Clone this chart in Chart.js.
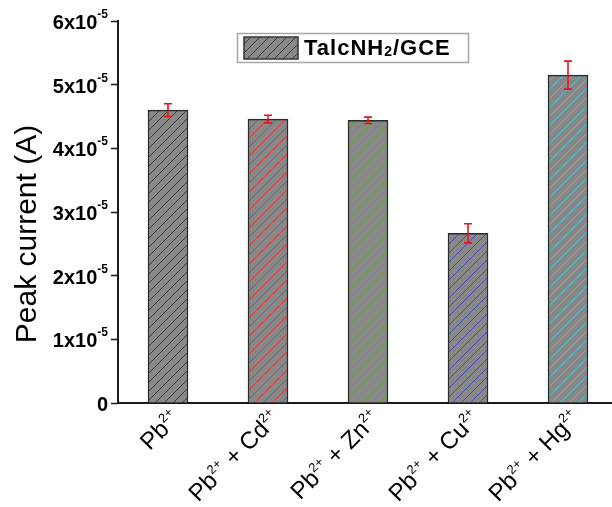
<!DOCTYPE html>
<html>
<head>
<meta charset="utf-8">
<script src="https://cdn.jsdelivr.net/npm/chart.js@4.4.1/dist/chart.umd.min.js"></script>
<style>
  html, body { margin: 0; padding: 0; background: #fff; }
  #wrap { width: 612px; height: 507px; overflow: hidden; position: relative; }
  canvas { display: block; }
</style>
</head>
<body>
<div id="wrap"><canvas id="chart" width="630" height="507"></canvas></div>
<script>
// --- data ---
const categories = ["Pb²⁺", "Pb²⁺ + Cd²⁺", "Pb²⁺ + Zn²⁺", "Pb²⁺ + Cu²⁺", "Pb²⁺ + Hg²⁺"];
const peakCurrent = [4.60e-5, 4.46e-5, 4.44e-5, 2.665e-5, 5.15e-5];
const errorBars = [0.10e-5, 0.06e-5, 0.05e-5, 0.15e-5, 0.22e-5];
const hatchColors = ["#3a3a3a", "#e23a3a", "#5ea040", "#4d4dbd", "#4ec3d3"];
const yTickValues = [0, 1e-5, 2e-5, 3e-5, 4e-5, 5e-5, 6e-5];
const yTickLabels = ["0", "1x10⁻⁵", "2x10⁻⁵", "3x10⁻⁵", "4x10⁻⁵", "5x10⁻⁵", "6x10⁻⁵"];
const seriesName = "TalcNH₂/GCE";
const yTitle = "Peak current (A)";

const FONT = '"Liberation Sans", Arial, sans-serif';
const canvas = document.getElementById('chart');
const ctx0 = canvas.getContext('2d');

// diagonal hatch over grey, one colour per bar
function makeHatch(lineColor) {
  const s = 9;
  const tile = document.createElement('canvas');
  tile.width = s; tile.height = s;
  const g = tile.getContext('2d');
  g.fillStyle = '#888888';
  g.fillRect(0, 0, s, s);
  g.strokeStyle = lineColor;
  g.lineWidth = 1;
  g.beginPath();
  g.moveTo(0, s); g.lineTo(s, 0);
  g.moveTo(-1, 1); g.lineTo(1, -1);
  g.moveTo(s - 1, s + 1); g.lineTo(s + 1, s - 1);
  g.stroke();
  return ctx0.createPattern(tile, 'repeat');
}
const hatches = hatchColors.map(makeHatch);

// super/subscript aware text
const SUP = {"⁰":"0","¹":"1","²":"2","³":"3","⁴":"4","⁵":"5","⁶":"6","⁷":"7","⁸":"8","⁹":"9","⁺":"+","⁻":"-"};
const SUB = {"₀":"0","₁":"1","₂":"2","₃":"3","₄":"4"};
function splitRuns(str) {
  const runs = [];
  for (const ch of str) {
    const kind = SUP[ch] ? 1 : (SUB[ch] ? -1 : 0);
    const c = SUP[ch] || SUB[ch] || ch;
    const last = runs[runs.length - 1];
    if (last && last.kind === kind) last.text += c;
    else runs.push({ kind: kind, text: c });
  }
  return runs;
}
function drawRich(ctx, str, x, y, o) {
  const runs = splitRuns(str);
  const fontFor = r => `${o.weight || 'normal'} ${r.kind ? o.small : o.size}px ${FONT}`;
  ctx.letterSpacing = (o.spacing || 0) + 'px';
  let total = 0;
  runs.forEach(r => { ctx.font = fontFor(r); r.w = ctx.measureText(r.text).width; total += r.w; });
  let cx = o.align === 'right' ? x - total : (o.align === 'center' ? x - total / 2 : x);
  ctx.textAlign = 'left';
  ctx.textBaseline = 'alphabetic';
  runs.forEach(r => {
    ctx.font = fontFor(r);
    const dy = r.kind === 1 ? -o.rise : (r.kind === -1 ? o.drop : 0);
    ctx.fillText(r.text, cx, y + dy);
    cx += r.w;
  });
  ctx.letterSpacing = '0px';
  return total;
}

// error bars on top of the bars
const errorBarPlugin = {
  id: 'errorBars',
  afterDatasetsDraw(chart) {
    const ctx = chart.ctx;
    const meta = chart.getDatasetMeta(0);
    const ys = chart.scales.y;
    ctx.save();
    ctx.strokeStyle = '#e8141c';
    ctx.lineWidth = 1.6;
    meta.data.forEach((bar, i) => {
      const v = peakCurrent[i], e = errorBars[i];
      const top = ys.getPixelForValue(v + e);
      const bot = ys.getPixelForValue(v - e);
      const x = bar.x;
      ctx.beginPath();
      ctx.moveTo(x, top); ctx.lineTo(x, bot);
      ctx.moveTo(x - 4, top); ctx.lineTo(x + 4, top);
      ctx.moveTo(x - 4, bot); ctx.lineTo(x + 4, bot);
      ctx.stroke();
    });
    ctx.restore();
  }
};

// axis labels, title and legend box
const labelsPlugin = {
  id: 'richLabels',
  afterDraw(chart) {
    const ctx = chart.ctx;
    const xs = chart.scales.x, ys = chart.scales.y;
    ctx.save();
    ctx.fillStyle = '#000';

    // y tick labels
    yTickValues.forEach((v, i) => {
      const py = ys.getPixelForValue(v);
      drawRich(ctx, yTickLabels[i], 108, py + 8, { weight: 'bold', size: 20, small: 12, rise: 11, align: 'right' });
    });

    // x category labels, rotated
    categories.forEach((lab, i) => {
      const px = xs.getPixelForValue(i);
      ctx.save();
      ctx.translate(px + 13, 420);
      ctx.rotate(-Math.PI / 4);
      drawRich(ctx, lab, 0, 0, { size: 24, small: 13, rise: 10, align: 'right' });
      ctx.restore();
    });

    // y title
    ctx.save();
    ctx.translate(36, 234);
    ctx.rotate(-Math.PI / 2);
    ctx.font = `30px ${FONT}`;
    ctx.textAlign = 'center';
    ctx.textBaseline = 'alphabetic';
    ctx.fillText(yTitle, 0, 0);
    ctx.restore();

    // legend
    ctx.strokeStyle = '#a6a6a6';
    ctx.lineWidth = 1.5;
    ctx.strokeRect(237.5, 33.5, 231, 29);
    ctx.fillStyle = hatches[0];
    ctx.fillRect(244, 37, 54, 22);
    ctx.strokeStyle = '#333';
    ctx.lineWidth = 1.5;
    ctx.strokeRect(244, 37, 54, 22);
    ctx.fillStyle = '#000';
    drawRich(ctx, seriesName, 304, 55, { weight: 'bold', size: 22, small: 14, drop: 1, spacing: 1, align: 'left' });

    ctx.restore();
  }
};

new Chart(canvas, {
  type: 'bar',
  data: {
    labels: categories,
    datasets: [{
      label: seriesName,
      data: peakCurrent,
      backgroundColor: hatches,
      borderColor: '#2b2b2b',
      borderWidth: 1.5,
      barThickness: 40
    }]
  },
  options: {
    responsive: false,
    animation: false,
    devicePixelRatio: 1,
    layout: { padding: { left: 111, right: 12, top: 21, bottom: 104 } },
    plugins: { legend: { display: false }, tooltip: { enabled: false } },
    scales: {
      x: {
        grid: { display: false, drawTicks: false },
        border: { display: true, color: '#1a1a1a', width: 2 },
        ticks: { display: false }
      },
      y: {
        min: 0,
        max: 6e-5,
        ticks: { display: false, stepSize: 1e-5 },
        grid: { drawOnChartArea: false, drawTicks: true, tickLength: 7, tickColor: '#1a1a1a', tickWidth: 1.5 },
        border: { display: true, color: '#1a1a1a', width: 2 }
      }
    }
  },
  plugins: [errorBarPlugin, labelsPlugin]
});
</script>
</body>
</html>
